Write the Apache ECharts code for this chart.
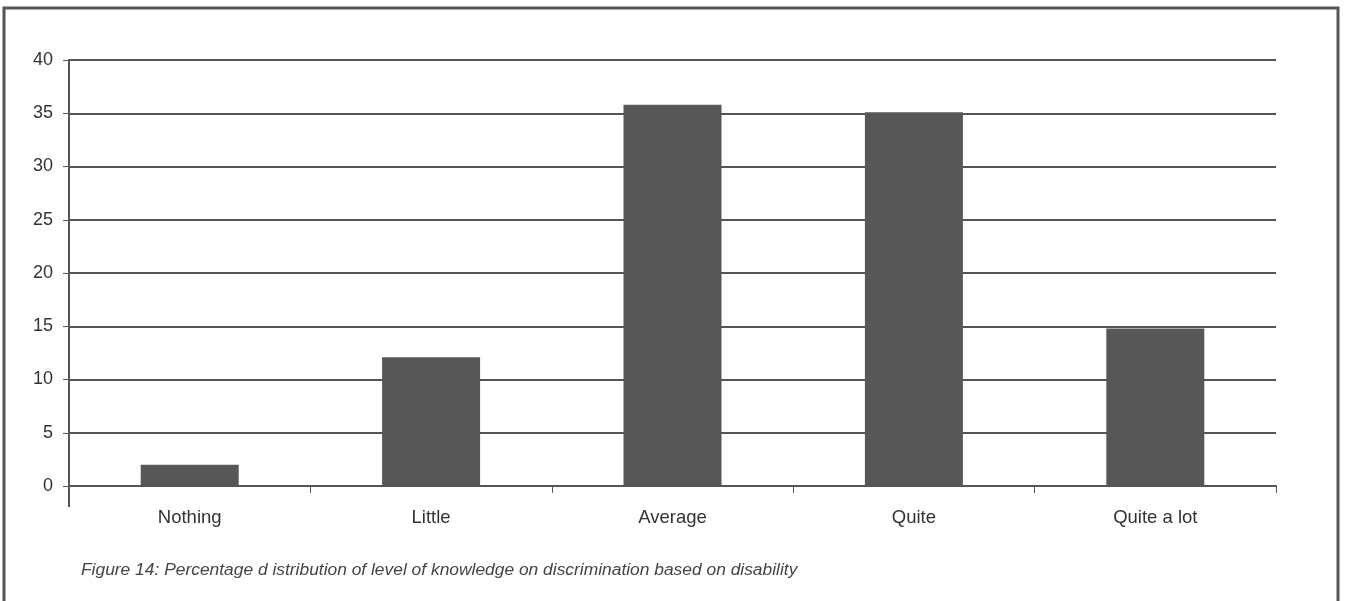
<!DOCTYPE html>
<html>
<head>
<meta charset="utf-8">
<script src="https://cdn.jsdelivr.net/npm/echarts@6/dist/echarts.min.js"></script>
<style>
    html, body { margin: 0; padding: 0; background: #fff; }
    #knowledge-bar-chart { width: 1346px; height: 601px; }
</style>
</head>
<body>
<div id="knowledge-bar-chart"></div>
<script>
const categories = ['Nothing', 'Little', 'Average', 'Quite', 'Quite a lot'];
const percentValues = [2, 12.1, 35.8, 35.1, 14.8];
const yTicks = [0, 5, 10, 15, 20, 25, 30, 35, 40];
const captionText = 'Figure 14: Percentage d istribution of level of knowledge on discrimination based on disability';

const lineColor = '#555';
const fontFamily = '"Liberation Sans", Arial, sans-serif';

let myChart = echarts.init(document.getElementById('knowledge-bar-chart'));
let option = {
    animation: false,
    title: {
        text: captionText,
        left: 76,
        top: 557,
        textStyle: {
            fontFamily: fontFamily,
            fontStyle: 'italic',
            fontWeight: 'normal',
            fontSize: 17.4,
            color: '#444'
        }
    },
    grid: {
        left: 69,
        right: 70,
        top: 60,
        bottom: 115
    },
    // outer frame of the figure
    graphic: [{
        type: 'rect',
        shape: { x: 4, y: 8, width: 1334, height: 610 },
        style: { fill: 'none', stroke: lineColor, lineWidth: 3 },
        silent: true
    }, {
        type: 'line',
        shape: { x1: 69, y1: 486, x2: 69, y2: 507 },
        style: { stroke: lineColor, lineWidth: 2 },
        silent: true
    }],
    xAxis: {
        type: 'category',
        data: categories,
        boundaryGap: true,
        axisLine: { lineStyle: { color: lineColor, width: 2 } },
        axisTick: { show: true, alignWithLabel: false, length: 7, lineStyle: { color: lineColor, width: 1 } },
        axisLabel: { color: '#333', fontSize: 18.5, fontFamily: fontFamily, margin: 22 }
    },
    yAxis: {
        type: 'value',
        min: yTicks[0],
        max: yTicks[yTicks.length - 1],
        interval: yTicks[1] - yTicks[0],
        axisLine: { show: true, lineStyle: { color: lineColor, width: 2 } },
        axisTick: { show: true, length: 6, lineStyle: { color: lineColor, width: 1 } },
        axisLabel: { color: '#333', fontSize: 18, fontFamily: fontFamily, margin: 16 },
        splitLine: { show: true, lineStyle: { color: lineColor, width: 2 } }
    },
    series: [{
        type: 'bar',
        data: percentValues,
        barWidth: 98,
        itemStyle: { color: '#575757' }
    }]
};
myChart.setOption(option);
</script>
</body>
</html>
